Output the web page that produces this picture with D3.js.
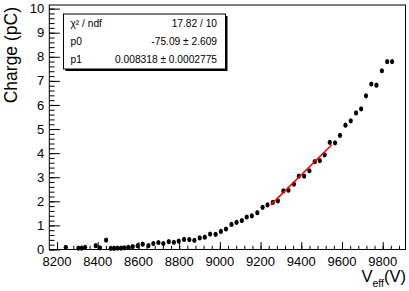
<!DOCTYPE html>
<html><head><meta charset="utf-8">
<script src="https://cdn.jsdelivr.net/npm/d3@7"></script>
<style>html,body{margin:0;padding:0;background:#fff;}svg{display:block;}text{font-family:"Liberation Sans",Arial,Helvetica,sans-serif;}</style>
</head><body><svg id="c" width="409" height="291"></svg>
<script>
const voltage = [8243,8305,8321,8338,8390,8411,8441,8464,8480,8496,8514,8531,8550,
  8572,8596,8621,8649,8673,8698,8722,8749,8774,8798,8824,8850,8875,8901,8926,8952,8979,
  9005,9030,9057,9082,9108,9132,9157,9184,9210,9234,9260,9285,9312,9337,9364,9388,9414,
  9440,9466,9491,9515,9540,9566,9590,9617,9643,9669,9694,9718,9744,9769,9796,9822,9846];
const charge = [0.09,0.06,0.06,0.09,0.16,0.07,0.39,0.05,0.05,0.06,0.06,0.07,0.09,
  0.12,0.16,0.22,0.16,0.25,0.29,0.25,0.33,0.30,0.35,0.42,0.41,0.38,0.48,0.51,0.64,0.63,
  0.75,0.85,1.04,1.13,1.20,1.35,1.40,1.53,1.75,1.85,1.96,2.02,2.43,2.46,2.71,3.05,3.05,
  3.27,3.65,3.69,3.93,4.45,4.43,4.74,5.16,5.34,5.67,5.84,6.38,6.87,6.82,7.42,7.80,7.80];
const xTicks = [8200,8400,8600,8800,9000,9200,9400,9600,9800];
const yTicks = [0,1,2,3,4,5,6,7,8,9,10];
const fitRange = [9250,9550];
const fitP0 = -75.09, fitP1 = 0.008318;
const statsLabels = ["χ² / ndf","p0","p1"];
const statsValues = ["17.82 / 10","-75.09 ± 2.609","0.008318 ± 0.0002775"];

const svg = d3.select("#c");
const L=49.3, R=405.5, T=5, B=249.5;
const x = d3.scaleLinear().domain([8162,9912]).range([L,R]);
const y = d3.scaleLinear().domain([0,10.15]).range([B,T]);

svg.append("rect").attr("width",409).attr("height",291).attr("fill","#fff");

// frame
svg.append("rect").attr("x",L).attr("y",T).attr("width",R-L).attr("height",B-T)
  .attr("fill","none").attr("stroke","#000").attr("stroke-width",1);

// y axis ticks
const yMinor = d3.range(0,10.15,0.2);
const yAxis = d3.axisRight(y).tickValues(yMinor).tickFormat("").tickSizeOuter(0).tickSize(5.3);
const gy = svg.append("g").attr("transform",`translate(${L},0)`).call(yAxis);
gy.select(".domain").remove();
const yAxisMaj = d3.axisRight(y).tickValues(yTicks).tickFormat("").tickSizeOuter(0).tickSize(10.6);
const gy2 = svg.append("g").attr("transform",`translate(${L},0)`).call(yAxisMaj);
gy2.select(".domain").remove();
svg.append("g").selectAll("text").data(yTicks).join("text")
  .attr("x",L-5).attr("y",d=>y(d)+4.6).attr("text-anchor","end")
  .attr("font-size",13).text(d=>d);

// x axis ticks
const xMinor = d3.range(8200,9912,40);
const xAxis = d3.axisTop(x).tickValues(xMinor).tickFormat("").tickSizeOuter(0).tickSize(3.7);
const gx = svg.append("g").attr("transform",`translate(0,${B})`).call(xAxis);
gx.select(".domain").remove();
const xAxisMaj = d3.axisTop(x).tickValues(xTicks).tickFormat("").tickSizeOuter(0).tickSize(7.4);
const gx2 = svg.append("g").attr("transform",`translate(0,${B})`).call(xAxisMaj);
gx2.select(".domain").remove();
svg.selectAll("g.tick line").attr("stroke","#000").attr("stroke-width",1);
svg.append("g").selectAll("text").data(xTicks).join("text")
  .attr("x",d=>x(d)).attr("y",B+16.8).attr("text-anchor","middle")
  .attr("font-size",13).text(d=>d);

// titles
svg.append("text").attr("transform","translate(17,7) rotate(-90)")
  .attr("text-anchor","end").attr("font-size",17.5).text("Charge (pC)");
const xt = svg.append("text").attr("x",406).attr("y",282).attr("text-anchor","end").attr("font-size",16.5);
xt.append("tspan").text("V");
xt.append("tspan").attr("font-size",10.5).attr("dy",5).text("eff");
xt.append("tspan").attr("dy",-5).text("(V)");

// data points
svg.append("g").selectAll("ellipse").data(voltage).join("ellipse")
  .attr("cx",(d)=>x(d)).attr("cy",(d,i)=>y(charge[i]))
  .attr("rx",2.1).attr("ry",2.6).attr("fill","#000");

// fit line
svg.append("line").attr("x1",x(fitRange[0])).attr("y1",y(fitP0+fitP1*fitRange[0]))
  .attr("x2",x(fitRange[1])).attr("y2",y(fitP0+fitP1*fitRange[1]))
  .attr("stroke","#ff0000").attr("stroke-width",1.5);

// stats box
const bx=63.5, by=14, bw=162, bh=55;
svg.append("rect").attr("x",bx+2).attr("y",by+2).attr("width",bw).attr("height",bh).attr("fill","#000");
svg.append("rect").attr("x",bx).attr("y",by).attr("width",bw).attr("height",bh)
  .attr("fill","#fff").attr("stroke","#000").attr("stroke-width",1);
const rowsY=[26.7,45,63.3];
svg.append("g").selectAll("text").data(statsLabels).join("text")
  .attr("x",70.5).attr("y",(d,i)=>rowsY[i]).attr("font-size",10.2).text(d=>d);
svg.append("g").selectAll("text").data(statsValues).join("text")
  .attr("x",217).attr("y",(d,i)=>rowsY[i]).attr("font-size",10.2).attr("text-anchor","end").text(d=>d);
</script></body></html>
